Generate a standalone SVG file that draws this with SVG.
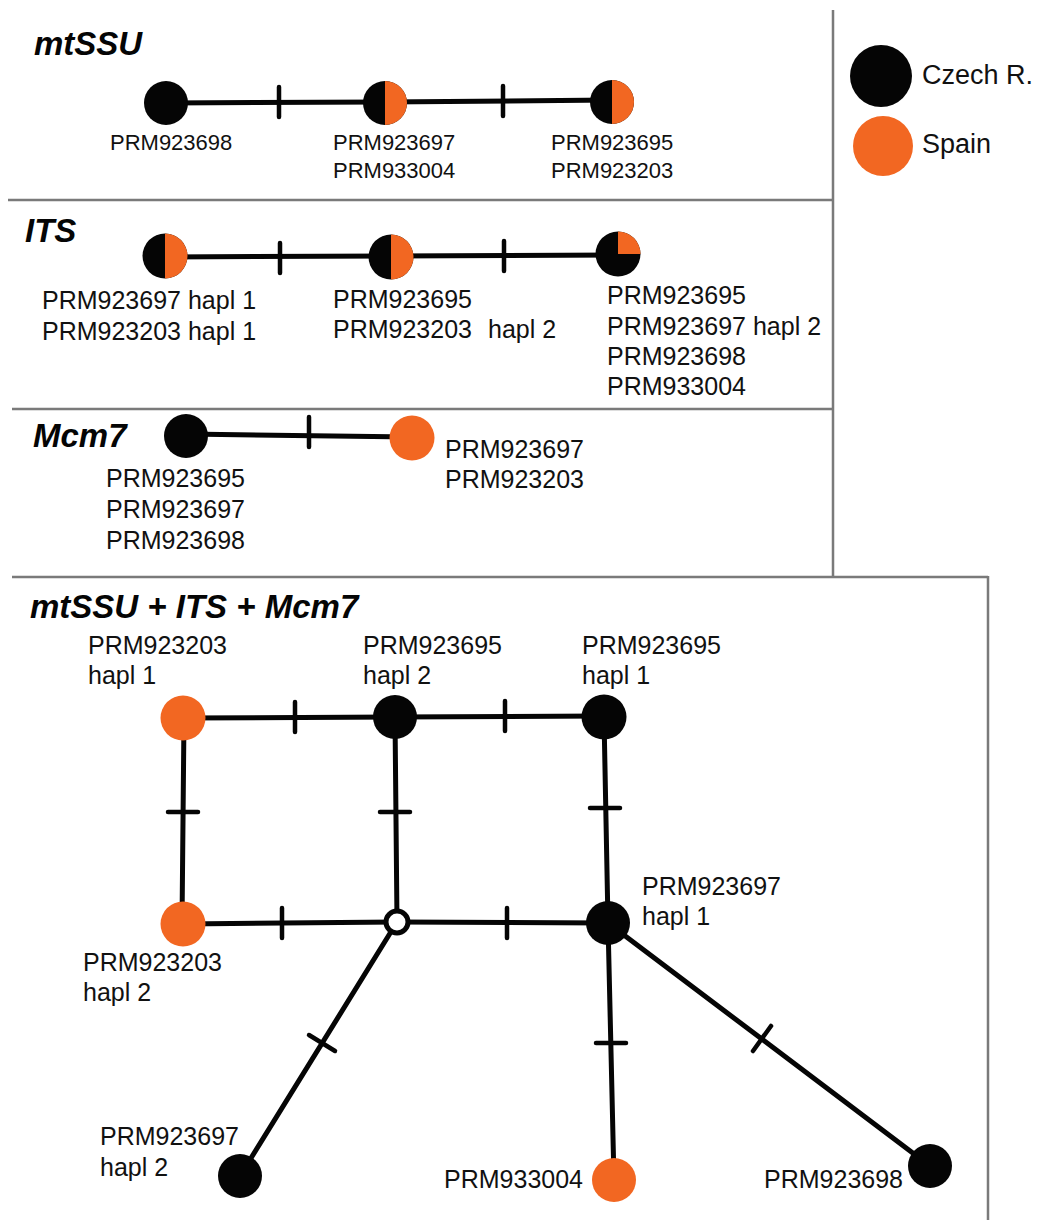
<svg xmlns="http://www.w3.org/2000/svg" width="1040" height="1220" viewBox="0 0 1040 1220">
<style>
.div{stroke:#7a7a7a;stroke-width:2.5;fill:none}
.edge{stroke:#050505;stroke-width:5;fill:none;stroke-linecap:round}
.tick{stroke:#050505;stroke-width:4.5;fill:none;stroke-linecap:round}
.blk{fill:#050505}
.org{fill:#f26722}
.title{font-family:"Liberation Sans",Arial,sans-serif;font-weight:bold;font-style:italic;font-size:33px;fill:#050505}
.s22{font-family:"Liberation Sans",Arial,sans-serif;font-size:22px;fill:#111}
.s25{font-family:"Liberation Sans",Arial,sans-serif;font-size:25px;fill:#111}
.leg{font-family:"Liberation Sans",Arial,sans-serif;font-size:27px;fill:#111}
</style>
<rect width="1040" height="1220" fill="#ffffff"/>
<g id="dividers">
<line class="div" x1="833" y1="10" x2="833" y2="578"/>
<line class="div" x1="8" y1="200" x2="833" y2="200"/>
<line class="div" x1="12" y1="409" x2="833" y2="409"/>
<line class="div" x1="12" y1="577" x2="988" y2="577"/>
<line class="div" x1="988" y1="576" x2="988" y2="1220"/>
</g>
<g id="titles">
<text class="title" x="34" y="55">mtSSU</text>
<text class="title" x="25" y="242">ITS</text>
<text class="title" x="33" y="447">Mcm7</text>
<text class="title" x="30" y="618">mtSSU + ITS + Mcm7</text>
</g>
<g id="legend">
<circle class="blk" cx="881" cy="76" r="31"/>
<text class="leg" x="922" y="84">Czech R.</text>
<circle class="org" cx="883" cy="146" r="30"/>
<text class="leg" x="922" y="153">Spain</text>
</g>
<g id="connectors">
<!-- mtSSU -->
<line class="edge" x1="166" y1="103" x2="385" y2="102"/>
<line class="edge" x1="385" y1="102" x2="612" y2="100"/>
<line class="tick" x1="279" y1="87" x2="279" y2="117"/>
<line class="tick" x1="503" y1="86" x2="503" y2="116"/>
<!-- ITS -->
<line class="edge" x1="165" y1="257" x2="391" y2="256"/>
<line class="edge" x1="391" y1="256" x2="618" y2="255"/>
<line class="tick" x1="280" y1="243" x2="280" y2="273"/>
<line class="tick" x1="504" y1="241" x2="504" y2="271"/>
<!-- Mcm7 -->
<line class="edge" x1="186" y1="434" x2="412" y2="437"/>
<line class="tick" x1="309" y1="417" x2="309" y2="447"/>
<!-- combined -->
<line class="edge" x1="183" y1="718" x2="395" y2="717"/>
<line class="edge" x1="395" y1="717" x2="604" y2="716"/>
<line class="edge" x1="184" y1="718" x2="182" y2="924"/>
<line class="edge" x1="395" y1="717" x2="397" y2="922"/>
<line class="edge" x1="604" y1="717" x2="608" y2="923"/>
<line class="edge" x1="183" y1="924" x2="397" y2="922"/>
<line class="edge" x1="397" y1="922" x2="608" y2="923"/>
<line class="edge" x1="397" y1="922" x2="240" y2="1176"/>
<line class="edge" x1="608" y1="923" x2="614" y2="1180"/>
<line class="edge" x1="608" y1="923" x2="930" y2="1166"/>
<line class="tick" x1="295" y1="702" x2="295" y2="732"/>
<line class="tick" x1="505" y1="701" x2="505" y2="731"/>
<line class="tick" x1="168" y1="812" x2="198" y2="812"/>
<line class="tick" x1="380" y1="812" x2="410" y2="812"/>
<line class="tick" x1="590" y1="808" x2="620" y2="808"/>
<line class="tick" x1="282" y1="908" x2="282" y2="938"/>
<line class="tick" x1="507" y1="908" x2="507" y2="938"/>
<line class="tick" x1="309" y1="1035" x2="335" y2="1051"/>
<line class="tick" x1="596" y1="1043" x2="626" y2="1043"/>
<line class="tick" x1="753" y1="1051" x2="771" y2="1026"/>
</g>
<g id="mtssu-n1">
<circle class="blk" cx="166" cy="103" r="22"/>
<text class="s22" x="110" y="150">PRM923698</text>
</g>
<g id="mtssu-n2">
<circle class="blk" cx="385" cy="103" r="22"/>
<path class="org" d="M385,81 A22,22 0 0 1 385,125 Z"/>
<text class="s22" x="333" y="150">PRM923697</text>
<text class="s22" x="333" y="178">PRM933004</text>
</g>
<g id="mtssu-n3">
<circle class="blk" cx="612" cy="102" r="22"/>
<path class="org" d="M612,80 A22,22 0 0 1 612,124 Z"/>
<text class="s22" x="551" y="150">PRM923695</text>
<text class="s22" x="551" y="178">PRM923203</text>
</g>
<g id="its-n1">
<circle class="blk" cx="165" cy="256" r="22.5"/>
<path class="org" d="M165,233.5 A22.5,22.5 0 0 1 165,278.5 Z"/>
<text class="s25" x="42" y="309">PRM923697 hapl 1</text>
<text class="s25" x="42" y="340">PRM923203 hapl 1</text>
</g>
<g id="its-n2">
<circle class="blk" cx="391" cy="257" r="22.5"/>
<path class="org" d="M391,234.5 A22.5,22.5 0 0 1 391,279.5 Z"/>
<text class="s25" x="333" y="308">PRM923695</text>
<text class="s25" x="333" y="338">PRM923203</text>
<text class="s25" x="488" y="338">hapl 2</text>
</g>
<g id="its-n3">
<circle class="blk" cx="618" cy="254" r="22.5"/>
<path class="org" d="M618,254 L618,231.5 A22.5,22.5 0 0 1 640.5,254 Z"/>
<text class="s25" x="607" y="304">PRM923695</text>
<text class="s25" x="607" y="335">PRM923697 hapl 2</text>
<text class="s25" x="607" y="365">PRM923698</text>
<text class="s25" x="607" y="395">PRM933004</text>
</g>
<g id="mcm7-n1">
<circle class="blk" cx="186" cy="436" r="22"/>
<text class="s25" x="106" y="487">PRM923695</text>
<text class="s25" x="106" y="518">PRM923697</text>
<text class="s25" x="106" y="549">PRM923698</text>
</g>
<g id="mcm7-n2">
<circle class="org" cx="412" cy="438" r="22.5"/>
<text class="s25" x="445" y="458">PRM923697</text>
<text class="s25" x="445" y="488">PRM923203</text>
</g>
<g id="c-a">
<circle class="org" cx="183" cy="718" r="22.5"/>
<text class="s25" x="88" y="654">PRM923203</text>
<text class="s25" x="88" y="684">hapl 1</text>
</g>
<g id="c-b">
<circle class="blk" cx="395" cy="717" r="22"/>
<text class="s25" x="363" y="654">PRM923695</text>
<text class="s25" x="363" y="684">hapl 2</text>
</g>
<g id="c-c">
<circle class="blk" cx="604" cy="717" r="22.5"/>
<text class="s25" x="582" y="654">PRM923695</text>
<text class="s25" x="582" y="684">hapl 1</text>
</g>
<g id="c-d">
<circle class="org" cx="183" cy="924" r="22.5"/>
<text class="s25" x="83" y="971">PRM923203</text>
<text class="s25" x="83" y="1001">hapl 2</text>
</g>
<g id="c-e">
<circle cx="397" cy="922" r="11" fill="#ffffff" stroke="#050505" stroke-width="5"/>
</g>
<g id="c-f">
<circle class="blk" cx="608" cy="923" r="22"/>
<text class="s25" x="642" y="895">PRM923697</text>
<text class="s25" x="642" y="925">hapl 1</text>
</g>
<g id="c-g">
<circle class="blk" cx="240" cy="1176" r="22"/>
<text class="s25" x="100" y="1145">PRM923697</text>
<text class="s25" x="100" y="1176">hapl 2</text>
</g>
<g id="c-h">
<circle class="org" cx="614" cy="1180" r="22"/>
<text class="s25" x="583" y="1188" text-anchor="end">PRM933004</text>
</g>
<g id="c-i">
<circle class="blk" cx="930" cy="1166" r="22"/>
<text class="s25" x="903" y="1188" text-anchor="end">PRM923698</text>
</g>
</svg>
